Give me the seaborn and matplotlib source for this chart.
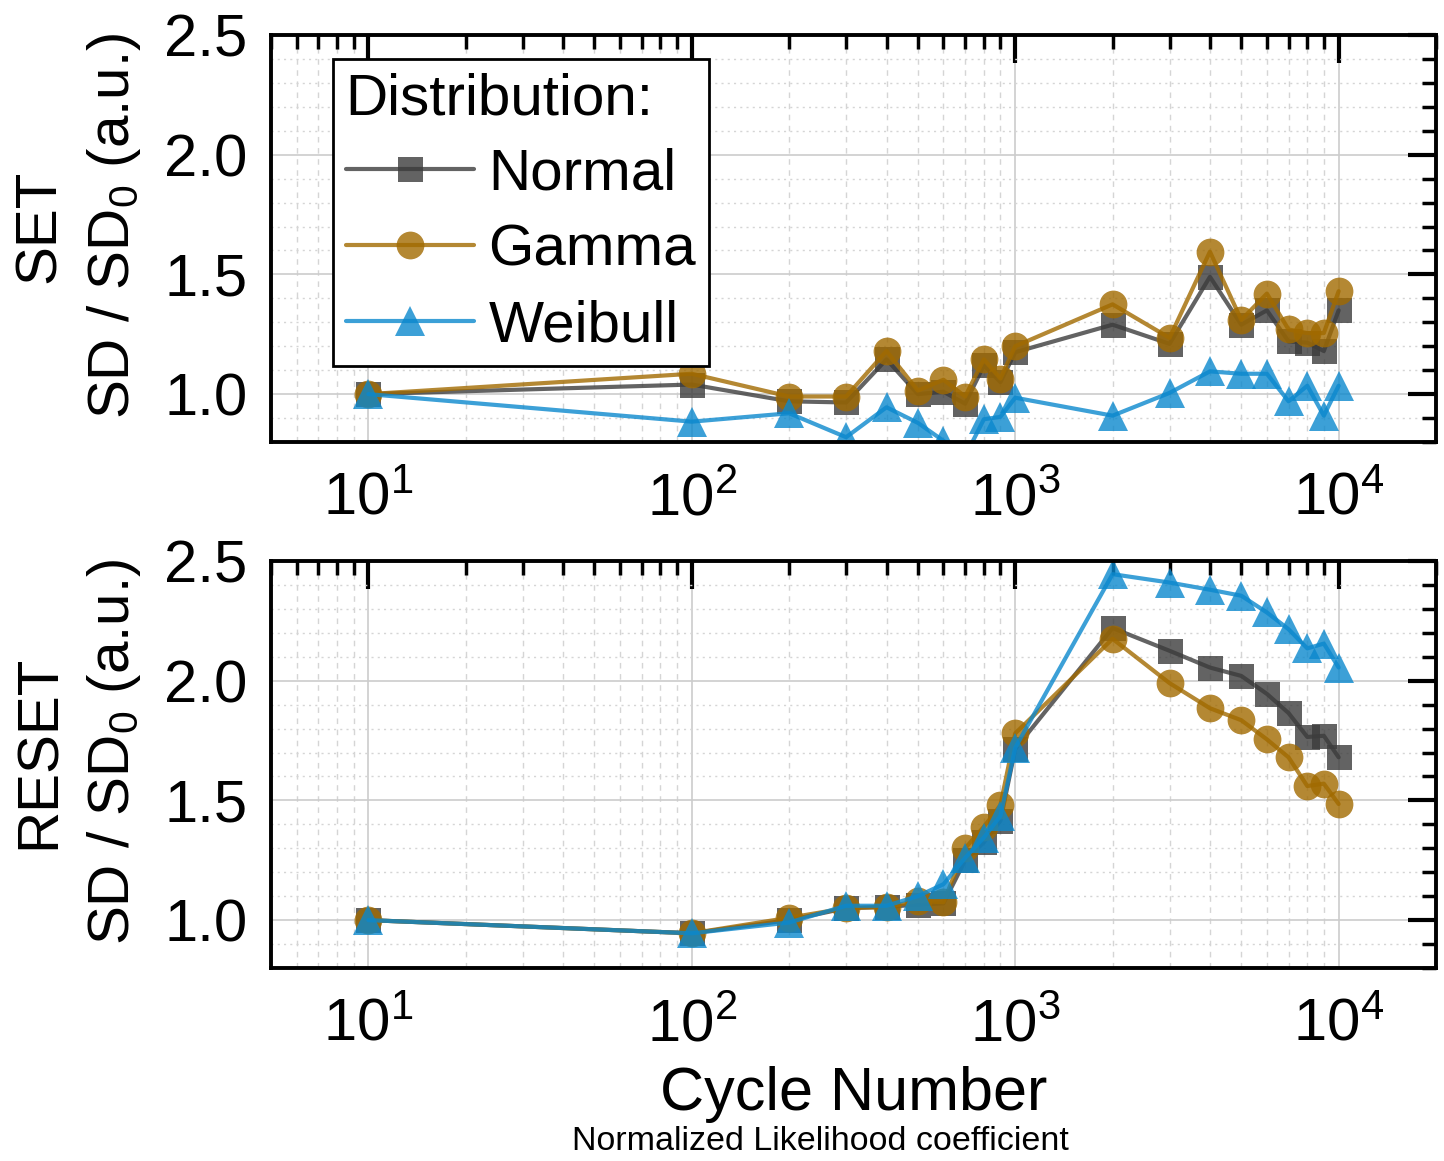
import numpy as np
import pandas as pd
import matplotlib
matplotlib.use('Agg')
import matplotlib.pyplot as plt
import seaborn as sns
from matplotlib.lines import Line2D
from matplotlib.ticker import LogLocator, MultipleLocator, NullFormatter

# cycle numbers
cycles = [10, 100, 200, 300, 400, 500, 600, 700, 800, 900,
          1000, 2000, 3000, 4000, 5000, 6000, 7000, 8000, 9000, 10000]

# SET panel
set_normal = [1.00, 1.04, 0.97, 0.965, 1.145, 1.00, 1.01, 0.96, 1.12, 1.05,
              1.175, 1.29, 1.21, 1.49, 1.29, 1.35, 1.22, 1.215, 1.18, 1.35]
set_gamma = [1.00, 1.085, 0.99, 0.99, 1.18, 1.015, 1.06, 0.99, 1.145, 1.065,
             1.20, 1.375, 1.235, 1.595, 1.31, 1.42, 1.27, 1.255, 1.255, 1.43]
set_weibull = [1.00, 0.885, 0.92, 0.82, 0.945, 0.88, 0.805, 0.74, 0.895, 0.905,
               0.985, 0.91, 1.005, 1.095, 1.085, 1.085, 0.97, 1.035, 0.91, 1.035]

# RESET panel
reset_normal = [1.00, 0.945, 1.00, 1.05, 1.055, 1.065, 1.07, 1.25, 1.325, 1.415,
                1.715, 2.22, 2.125, 2.055, 2.02, 1.945, 1.865, 1.765, 1.77, 1.68]
reset_gamma = [1.00, 0.945, 1.01, 1.05, 1.055, 1.08, 1.075, 1.30, 1.39, 1.48,
               1.78, 2.175, 1.99, 1.885, 1.835, 1.755, 1.68, 1.56, 1.57, 1.485]
reset_weibull = [1.00, 0.945, 0.99, 1.06, 1.06, 1.10, 1.15, 1.26, 1.345, 1.435,
                 1.72, 2.445, 2.41, 2.38, 2.355, 2.285, 2.215, 2.135, 2.155, 2.055]

dists = ['Normal', 'Gamma', 'Weibull']
colors = {'Normal': '#3c3c3c', 'Gamma': '#a16a00', 'Weibull': '#0b88cd'}
markers = {'Normal': 's', 'Gamma': 'o', 'Weibull': '^'}
msizes = {'Normal': 18, 'Gamma': 20, 'Weibull': 21}


def make_df(normal, gamma, weibull):
    rows = []
    for name, vals in zip(dists, [normal, gamma, weibull]):
        for c, v in zip(cycles, vals):
            rows.append({'cycle': c, 'value': v, 'dist': name})
    return pd.DataFrame(rows)


set_df = make_df(set_normal, set_gamma, set_weibull)
reset_df = make_df(reset_normal, reset_gamma, reset_weibull)

sns.set_style('white')
plt.rcParams['font.family'] = ['Liberation Sans', 'DejaVu Sans']
plt.rcParams['mathtext.fontset'] = 'custom'
plt.rcParams['mathtext.rm'] = 'Liberation Sans'
plt.rcParams['mathtext.it'] = 'Liberation Sans:italic'
for key in ['text.color', 'axes.labelcolor', 'xtick.color', 'ytick.color']:
    plt.rcParams[key] = 'black'

W, H = 1444, 1161
fig = plt.figure(figsize=(W / 100, H / 100), dpi=100)
ax_top = fig.add_axes([271 / W, 1 - 442 / H, 1165 / W, 407 / H])
ax_bot = fig.add_axes([271 / W, 1 - 968 / H, 1165 / W, 407 / H])

for ax, df, name in [(ax_top, set_df, 'SET'), (ax_bot, reset_df, 'RESET')]:
    for d in dists:
        sub = df[df['dist'] == d]
        sns.lineplot(data=sub, x='cycle', y='value', color=colors[d],
                     marker=markers[d], markersize=msizes[d], markeredgewidth=0,
                     linewidth=3, alpha=0.8, ax=ax, legend=False)
    ax.set_xscale('log')
    ax.set_xlim(5, 2e4)
    ax.set_ylim(0.8, 2.5)
    ax.yaxis.set_major_locator(MultipleLocator(0.5))
    ax.yaxis.set_minor_locator(MultipleLocator(0.1))
    ax.xaxis.set_major_locator(LogLocator(base=10, numticks=10))
    ax.xaxis.set_minor_locator(LogLocator(base=10, subs=np.arange(2, 10), numticks=20))
    ax.xaxis.set_minor_formatter(NullFormatter())
    ax.set_yticks([1.0, 1.5, 2.0, 2.5])
    ax.set_yticklabels(['1.0', '1.5', '2.0', '2.5'])
    ax.tick_params(which='both', direction='in', top=True, right=True)
    ax.tick_params(which='major', length=20, width=3, labelsize=43)
    ax.tick_params(which='minor', length=10, width=2.5)
    ax.tick_params(axis='x', which='major', pad=22)
    ax.tick_params(axis='y', which='major', pad=17)
    ax.grid(True, which='major', color='#cccccc', linewidth=1.2, linestyle='-')
    ax.xaxis.grid(True, which='minor', color='#d5d5d5', linewidth=1.0, linestyle=(0, (4, 4)))
    ax.yaxis.grid(True, which='minor', color='#d5d5d5', linewidth=1.0, linestyle=(0, (1.5, 3)))
    ax.set_axisbelow(True)
    for s in ax.spines.values():
        s.set_linewidth(2.8)
        s.set_color('black')
    ax.set_xlabel('')
    ax.set_ylabel(name + '\nSD / SD$_0$ (a.u.)', fontsize=42, linespacing=1.4, labelpad=6)
    ax.yaxis.set_label_coords(-0.11, 0.53)

ax_bot.set_xlabel('Cycle Number', fontsize=44, labelpad=9)

handles = [Line2D([], [], color=colors[d], marker=markers[d], markersize=msizes[d],
                  markeredgewidth=0, linewidth=3, alpha=0.8) for d in dists]
leg = ax_top.legend(handles, dists, title='Distribution:', loc='upper left',
                    bbox_to_anchor=(0.053, 0.94), borderaxespad=0, fontsize=42,
                    title_fontsize=42, frameon=True, fancybox=False, framealpha=1,
                    edgecolor='black', handlelength=2.2, labelspacing=0.37,
                    borderpad=0.22, handletextpad=0.25, alignment='left')
leg.get_frame().set_linewidth(2)

fig.text(820 / W, 1 - 1142 / H, 'Normalized Likelihood coefficient', fontsize=24.5,
         ha='center', va='center')

fig.savefig('out.png', dpi=100)
